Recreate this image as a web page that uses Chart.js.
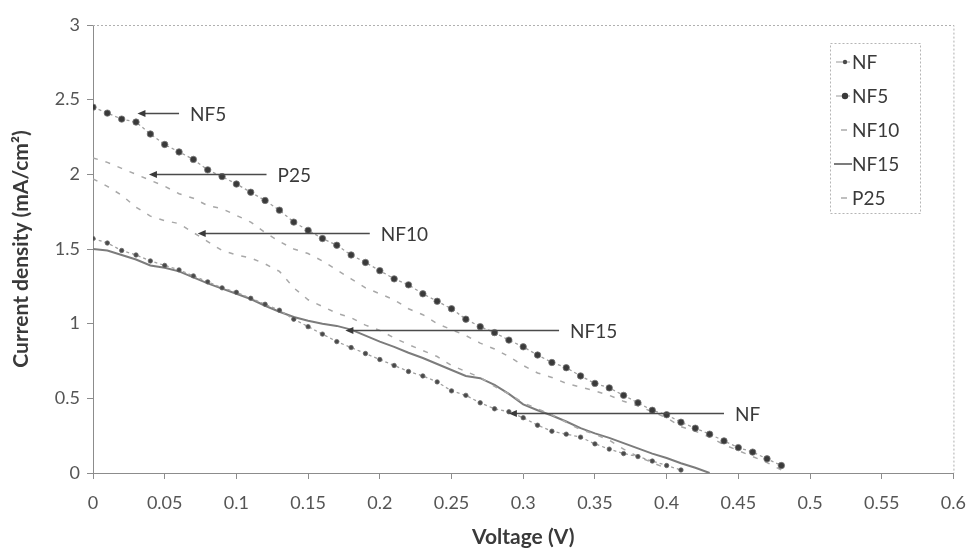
<!DOCTYPE html>
<html>
<head>
<meta charset="utf-8">
<script src="https://cdn.jsdelivr.net/npm/chart.js@4/dist/chart.umd.min.js"></script>
<style>
  html, body { margin: 0; padding: 0; background: #fff; }
  #wrap { width: 979px; height: 553px; }
</style>
</head>
<body>
<div id="wrap"><canvas id="c" width="979" height="553"></canvas></div>
<script>
// Voltage steps (V)
const voltage = [0.00,0.01,0.02,0.03,0.04,0.05,0.06,0.07,0.08,0.09,
                 0.10,0.11,0.12,0.13,0.14,0.15,0.16,0.17,0.18,0.19,
                 0.20,0.21,0.22,0.23,0.24,0.25,0.26,0.27,0.28,0.29,
                 0.30,0.31,0.32,0.33,0.34,0.35,0.36,0.37,0.38,0.39,
                 0.40,0.41,0.42,0.43,0.44,0.45,0.46,0.47,0.48];

// Current density (mA/cm²) for each sample
const nf   = [1.57,1.54,1.49,1.46,1.42,1.39,1.36,1.32,1.28,1.24,
              1.21,1.17,1.13,1.09,1.03,0.98,0.93,0.88,0.84,0.80,
              0.76,0.72,0.68,0.65,0.61,0.55,0.52,0.47,0.43,0.41,
              0.37,0.32,0.28,0.26,0.24,0.195,0.16,0.13,0.11,0.08,
              0.05,0.02];
const nf5  = [2.45,2.41,2.37,2.35,2.27,2.20,2.15,2.10,2.03,1.985,
              1.935,1.88,1.825,1.76,1.68,1.625,1.57,1.525,1.46,1.41,
              1.355,1.30,1.26,1.20,1.15,1.10,1.03,0.98,0.94,0.89,
              0.845,0.79,0.74,0.705,0.65,0.60,0.57,0.52,0.47,0.42,
              0.39,0.34,0.30,0.26,0.215,0.17,0.14,0.095,0.05];
const nf10 = [1.97,1.92,1.86,1.78,1.72,1.69,1.67,1.61,1.55,1.49,
              1.46,1.44,1.40,1.35,1.24,1.16,1.115,1.07,1.04,0.99,
              0.955,0.905,0.86,0.82,0.78,0.72,0.68,0.64,0.58,0.53,
              0.47,0.43,0.39,0.34,0.29,0.26,0.22,0.16,0.11,0.07,
              0.03];
const nf15 = [1.50,1.49,1.46,1.43,1.39,1.375,1.35,1.31,1.27,1.235,
              1.20,1.165,1.12,1.08,1.045,1.02,1.00,0.985,0.96,0.92,
              0.88,0.845,0.805,0.77,0.73,0.69,0.65,0.635,0.59,0.53,
              0.46,0.42,0.385,0.345,0.30,0.265,0.235,0.20,0.165,0.13,
              0.10,0.065,0.035,0.00];
const p25  = [2.11,2.08,2.04,2.00,1.96,1.92,1.87,1.84,1.79,1.77,
              1.725,1.68,1.61,1.55,1.50,1.47,1.42,1.36,1.30,1.24,
              1.20,1.16,1.10,1.06,1.00,0.96,0.92,0.87,0.83,0.78,
              0.72,0.67,0.64,0.60,0.575,0.55,0.52,0.48,0.45,0.41,
              0.37,0.31,0.28,0.24,0.19,0.15,0.11,0.07,0.02];

// Tick values
const xTicks = [0,0.05,0.1,0.15,0.2,0.25,0.3,0.35,0.4,0.45,0.5,0.55,0.6];
const yTicks = [0,0.5,1,1.5,2,2.5,3];

// Callout arrows: label, arrow tip voltage, tail voltage, current level
const calloutLabels = ['NF5','P25','NF10','NF15','NF'];
const calloutTipV   = [0.031,0.039,0.073,0.176,0.290];
const calloutTailV  = [0.060,0.121,0.193,0.325,0.440];
const calloutJ      = [2.41,2.00,1.61,0.96,0.40];

const pts = arr => arr.map((y, i) => ({ x: voltage[i], y }));

const TEXT = '#3a3a3a';
const FONT = 'Lato, "Open Sans", sans-serif';

const datasets = [
  { label: 'NF',   data: pts(nf),   borderColor: '#a0a0a0', borderWidth: 1.3, borderDash: [3, 3],
    pointRadius: 2.2, pointBackgroundColor: '#4a4a4a', pointBorderColor: '#6a6a6a', pointBorderWidth: 0.8, key: 'nf' },
  { label: 'NF5',  data: pts(nf5),  borderColor: '#a0a0a0', borderWidth: 1.3, borderDash: [3, 3],
    pointRadius: 3.2, pointBackgroundColor: '#3a3a3a', pointBorderColor: '#777', pointBorderWidth: 0.8, key: 'nf5' },
  { label: 'NF10', data: pts(nf10), borderColor: '#a8a8a8', borderWidth: 1.5, borderDash: [5, 8],
    pointRadius: 0, key: 'dash' },
  { label: 'NF15', data: pts(nf15), borderColor: '#7c7c7c', borderWidth: 2,
    pointRadius: 0, key: 'solid' },
  { label: 'P25',  data: pts(p25),  borderColor: '#a8a8a8', borderWidth: 1.5, borderDash: [5, 8],
    pointRadius: 0, key: 'dash' }
];

// Plot frame, callout arrows and legend box
const decorations = {
  id: 'decorations',
  afterDatasetsDraw(chart) {
    const { ctx, chartArea: a, scales: { x, y } } = chart;
    ctx.save();
    // dotted frame on top and right of plot area
    ctx.strokeStyle = '#b0b0b0';
    ctx.lineWidth = 1;
    ctx.setLineDash([2, 2]);
    ctx.beginPath();
    ctx.moveTo(a.left, a.top + 0.5);
    ctx.lineTo(a.right + 0.5, a.top + 0.5);
    ctx.lineTo(a.right + 0.5, a.bottom);
    ctx.stroke();
    ctx.setLineDash([]);

    // callouts
    ctx.font = '19px ' + FONT;
    ctx.textBaseline = 'middle';
    ctx.textAlign = 'left';
    calloutLabels.forEach((lab, i) => {
      const xt = x.getPixelForValue(calloutTipV[i]);
      const xe = x.getPixelForValue(calloutTailV[i]);
      const yy = Math.round(y.getPixelForValue(calloutJ[i])) + 0.5;
      ctx.strokeStyle = '#4a4a4a';
      ctx.fillStyle = '#3a3a3a';
      ctx.lineWidth = 1.4;
      ctx.beginPath();
      ctx.moveTo(xt + 6, yy);
      ctx.lineTo(xe, yy);
      ctx.stroke();
      ctx.beginPath();
      ctx.moveTo(xt, yy);
      ctx.lineTo(xt + 8, yy - 3.5);
      ctx.lineTo(xt + 8, yy + 3.5);
      ctx.closePath();
      ctx.fill();
      ctx.fillStyle = TEXT;
      ctx.fillText(lab, xe + 11, yy + 1);
    });

    // legend
    const lx = 830, ly = 43, lw = 90, lh = 170;
    ctx.fillStyle = '#fff';
    ctx.fillRect(lx, ly, lw, lh);
    ctx.strokeStyle = '#b5b5b5';
    ctx.lineWidth = 1;
    ctx.setLineDash([2, 2]);
    ctx.strokeRect(lx + 0.5, ly + 0.5, lw, lh);
    ctx.setLineDash([]);
    ctx.font = '19px ' + FONT;
    chart.data.datasets.forEach((ds, i) => {
      const cy = ly + 19 + i * 34;
      const sx = lx + 6;
      if (ds.key === 'nf' || ds.key === 'nf5') {
        ctx.strokeStyle = '#aaa';
        ctx.lineWidth = 1.2;
        ctx.beginPath(); ctx.moveTo(sx, cy); ctx.lineTo(sx + 14, cy); ctx.stroke();
        ctx.fillStyle = ds.pointBackgroundColor;
        ctx.beginPath(); ctx.arc(sx + 9, cy, ds.pointRadius, 0, Math.PI * 2); ctx.fill();
      } else if (ds.key === 'dash') {
        ctx.strokeStyle = '#aaa';
        ctx.lineWidth = 1.5;
        ctx.beginPath(); ctx.moveTo(sx + 5, cy); ctx.lineTo(sx + 11, cy); ctx.stroke();
      } else {
        ctx.strokeStyle = ds.borderColor;
        ctx.lineWidth = 2;
        ctx.beginPath(); ctx.moveTo(sx - 2, cy); ctx.lineTo(sx + 16, cy); ctx.stroke();
      }
      ctx.fillStyle = TEXT;
      ctx.fillText(ds.label, lx + 22, cy + 1);
    });
    ctx.restore();
  }
};

new Chart(document.getElementById('c'), {
  type: 'line',
  data: { datasets },
  options: {
    responsive: false,
    animation: false,
    devicePixelRatio: 1,
    layout: { padding: { top: 25, right: 18, left: 0, bottom: 0 } },
    elements: { line: { tension: 0, fill: false } },
    plugins: { legend: { display: false }, tooltip: { enabled: false } },
    scales: {
      x: {
        type: 'linear', min: 0, max: 0.6,
        afterBuildTicks: s => { s.ticks = xTicks.map(v => ({ value: v })); },
        afterFit: s => { s.height = 80; },
        border: { color: '#8c8c8c', width: 1 },
        grid: { drawOnChartArea: false, color: '#8c8c8c', tickLength: 6 },
        ticks: { color: '#555', font: { size: 18, family: FONT }, padding: 13,
                 maxRotation: 0, autoSkip: false, callback: v => String(+v.toFixed(2)) },
        title: { display: true, text: 'Voltage (V)', color: TEXT,
                 font: { size: 21, weight: 'bold', family: FONT }, padding: { top: 0, bottom: 3 } }
      },
      y: {
        type: 'linear', min: 0, max: 3,
        afterBuildTicks: s => { s.ticks = yTicks.map(v => ({ value: v })); },
        afterFit: s => { s.width = 93; },
        border: { color: '#8c8c8c', width: 1 },
        grid: { drawOnChartArea: false, color: '#8c8c8c', tickLength: 6 },
        ticks: { color: '#555', font: { size: 18, family: FONT }, padding: 7,
                 callback: v => String(+v.toFixed(2)) },
        title: { display: true, text: 'Current density (mA/cm²)', color: TEXT,
                 font: { size: 21, weight: 'bold', family: FONT }, padding: { top: 9, bottom: 0 } }
      }
    }
  },
  plugins: [decorations]
});
</script>
</body>
</html>
